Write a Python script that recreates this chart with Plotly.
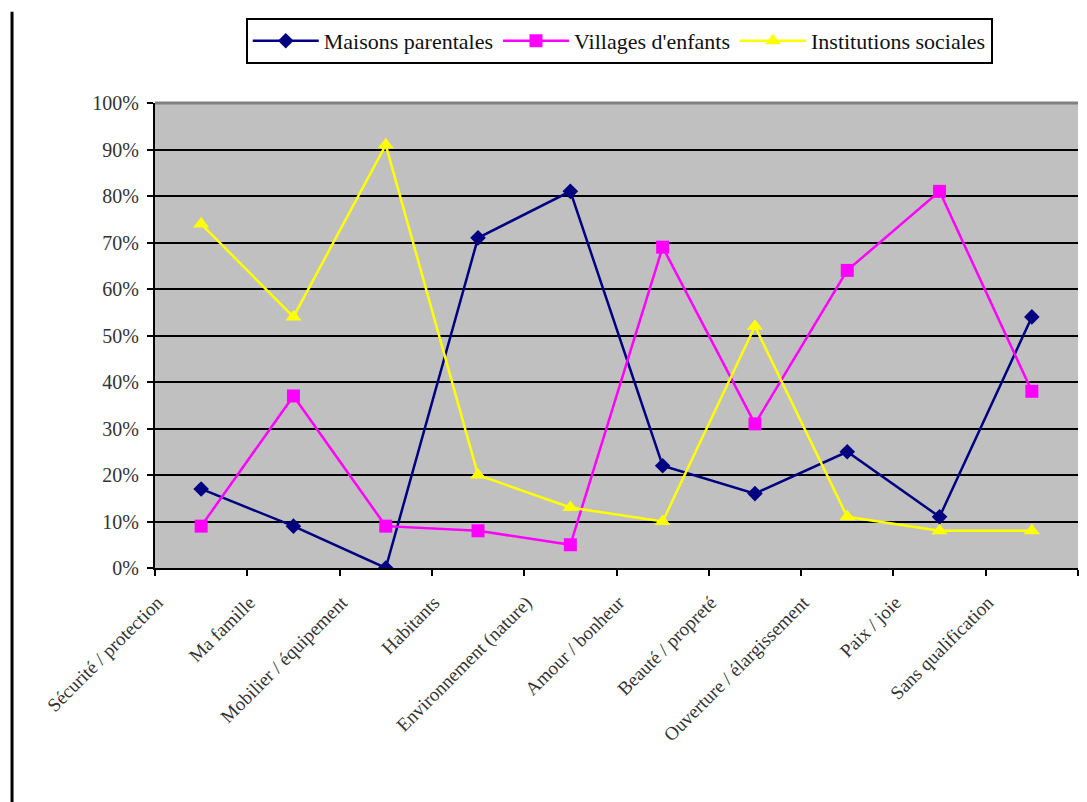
import plotly.graph_objects as go

# Categories and percentages per structure type
categories = [
    "Sécurité / protection",
    "Ma famille",
    "Mobilier / équipement",
    "Habitants",
    "Environnement (nature)",
    "Amour / bonheur",
    "Beauté / propreté",
    "Ouverture / élargissement",
    "Paix / joie",
    "Sans qualification",
]
maisons_parentales = [17, 9, 0, 71, 81, 22, 16, 25, 11, 54]
villages_enfants = [9, 37, 9, 8, 5, 69, 31, 64, 81, 38]
institutions_sociales = [74, 54, 91, 20, 13, 10, 52, 11, 8, 8]
y_ticks = [0, 10, 20, 30, 40, 50, 60, 70, 80, 90, 100]
y_tick_labels = [f"{v}%" for v in y_ticks]

SERIF = "Liberation Serif"

fig = go.Figure()
fig.add_trace(go.Scatter(
    x=categories, y=maisons_parentales, name="Maisons parentales",
    mode="lines+markers",
    line=dict(color="#000080", width=2.5),
    marker=dict(symbol="diamond", size=12, color="#000080"),
))
fig.add_trace(go.Scatter(
    x=categories, y=villages_enfants, name="Villages d'enfants",
    mode="lines+markers",
    line=dict(color="#FF00FF", width=2.5),
    marker=dict(symbol="square", size=13, color="#FF00FF"),
))
fig.add_trace(go.Scatter(
    x=categories, y=institutions_sociales, name="Institutions sociales",
    mode="lines+markers",
    line=dict(color="#FFFF00", width=2.5),
    marker=dict(symbol="triangle-up", size=14, color="#FFFF00"),
))

fig.update_layout(
    width=1087, height=802,
    margin=dict(l=155, r=9, t=103, b=234),
    paper_bgcolor="white",
    plot_bgcolor="#C0C0C0",
    font=dict(family=SERIF, color="black", size=14),
    showlegend=True,
    legend=dict(
        orientation="h",
        x=0.503, xanchor="center",
        y=1.183, yanchor="top",
        bgcolor="white",
        bordercolor="black", borderwidth=2,
        font=dict(family=SERIF, size=22, color="#111111"),
        itemwidth=66,
        tracegroupgap=0,
    ),
    xaxis=dict(
        type="category",
        range=[-0.5, 9.5],
        tickson="boundaries",
        ticks="outside", ticklen=6, tickwidth=2, tickcolor="black",
        showline=True, linecolor="black", linewidth=2,
        showgrid=False,
        tickangle=-45,
        ticklabelshift=-44,
        ticklabelstandoff=14,
        tickfont=dict(family=SERIF, size=19, color="#333333"),
    ),
    yaxis=dict(
        range=[0, 100],
        tickvals=y_ticks, ticktext=y_tick_labels,
        ticks="outside", ticklen=6, tickwidth=2, tickcolor="black",
        showline=True, linecolor="black", linewidth=2,
        showgrid=True, gridcolor="black", gridwidth=2,
        zeroline=False,
        ticklabelstandoff=4,
        tickfont=dict(family=SERIF, size=20, color="#333333"),
    ),
    shapes=[
        # grey frame edge along the top of the plot area
        dict(type="line", xref="paper", yref="paper", x0=0, x1=1, y0=1, y1=1,
             line=dict(color="#808080", width=3), layer="above"),
        # chart-area border on the left
        dict(type="line", xref="paper", yref="paper", x0=-0.1549, x1=-0.1549,
             y0=1.196, y1=-0.51, line=dict(color="black", width=3)),
    ],
)

fig.write_html("out.html", config=dict(displayModeBar=False))
